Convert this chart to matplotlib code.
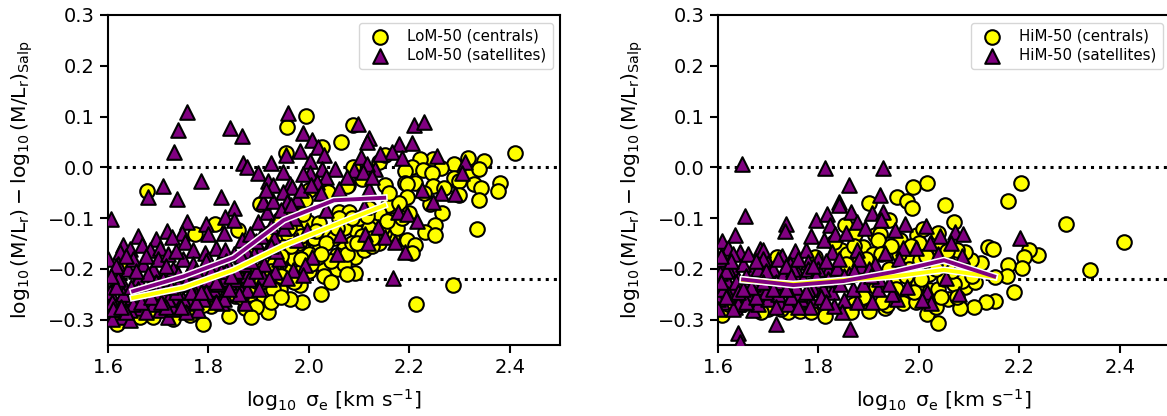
"""M/L offset vs velocity dispersion, LoM-50 and HiM-50, centrals and satellites."""
import matplotlib
matplotlib.use("Agg")
import matplotlib.pyplot as plt
import numpy as np

plt.rcParams["mathtext.default"] = "regular"

# (log sigma, offset)
LO_CEN = [
    (1.677,-0.047),(1.956,0.079),(1.994,0.102),(2.087,0.084),(2.064,0.049),(2.027,0.040),(1.954,0.028),(2.411,0.029),
    (2.316,0.019),(2.348,0.012),(2.288,0.006),(2.248,0.017),(2.221,0.016),(2.263,-0.001),(2.205,0.001),(2.227,-0.006),
    (2.191,-0.007),(2.245,-0.012),(2.324,-0.010),(2.338,-0.003),(2.294,-0.026),(2.288,-0.022),(2.152,-0.034),(2.077,-0.034),
    (2.105,-0.024),(2.087,0.001),(2.140,0.010),(2.152,0.025),(2.211,-0.031),(2.248,-0.037),(2.191,-0.031),(2.328,-0.032),
    (2.342,-0.040),(2.381,-0.030),(2.377,-0.047),(2.338,-0.064),(2.298,-0.027),(2.298,-0.055),(2.195,-0.032),(2.195,-0.058),
    (2.265,-0.090),(2.241,-0.072),(2.251,-0.114),(2.231,-0.127),(2.251,-0.134),(2.195,-0.144),(2.211,-0.154),(2.205,-0.169),
    (2.334,-0.122),(2.168,-0.104),(2.286,-0.232),(2.213,-0.270),(2.092,-0.208),(2.092,-0.177),(2.095,-0.127),(2.128,-0.103),
    (2.158,-0.075),(2.059,-0.088),(2.079,-0.088),(2.109,-0.163),(2.069,-0.158),(2.039,-0.190),(2.061,-0.196),(2.055,-0.200),
    (2.029,-0.193),(2.016,-0.154),(2.019,-0.177),(1.982,-0.232),(2.025,-0.250),(1.986,-0.265),(1.962,-0.259),(1.919,-0.285),
    (1.916,-0.236),(1.942,-0.239),(1.909,-0.200),(1.840,-0.293),(1.806,-0.274),(1.790,-0.308),(1.873,-0.278),(1.909,-0.252),
    (1.883,-0.249),(1.853,-0.254),(1.773,-0.132),(1.813,-0.111),(1.942,-0.140),(1.959,-0.134),(1.979,-0.114),(1.999,-0.108),
    (1.903,-0.072),(1.942,-0.101),(2.000,-0.045),(2.039,-0.049),(2.075,-0.036),(1.992,-0.065),(1.962,-0.081),(1.999,-0.131),
    (1.989,-0.091),(1.929,-0.239),(1.966,-0.203),(1.989,-0.196),(2.055,-0.173),(2.069,-0.190),(1.936,-0.206),(1.962,-0.177),
    (1.916,-0.177),(1.949,-0.157),(2.022,-0.157),(1.989,-0.163),(1.630,-0.190),(1.617,-0.308),(1.664,-0.295),(1.690,-0.295),
    (1.730,-0.298),(1.757,-0.285),(1.790,-0.272),(1.763,-0.291),(1.876,-0.216),(1.859,-0.124),(1.883,-0.157),(1.88,-0.20),
    (1.93,-0.19),(1.97,-0.18),(2.00,-0.17),(2.01,-0.14),(1.98,-0.15),(2.03,-0.13),(2.05,-0.14),(2.07,-0.12),(2.10,-0.10),
    (2.12,-0.12),(2.14,-0.09),(2.06,-0.10),(2.02,-0.11),(1.96,-0.12),(1.92,-0.13),(2.165,-0.135),(2.14,-0.15),(2.18,-0.07),
    (2.20,-0.09),(2.23,-0.05),(2.27,-0.04),(2.15,-0.13),(2.12,-0.08),(2.16,-0.05),(1.97,-0.225),(2.00,-0.205),(2.03,-0.215),
    (2.045,-0.185),(2.075,-0.170),(2.035,-0.150),(2.055,-0.120),(2.085,-0.150),(2.105,-0.135),(2.125,-0.155),(2.145,-0.120),
    (2.015,-0.125),(1.985,-0.135),(1.965,-0.155),(1.945,-0.175),(1.925,-0.205),(1.905,-0.225),(1.945,-0.215),(1.985,-0.180),
    (2.005,-0.190),(2.025,-0.170),(2.075,-0.210),(2.045,-0.225),(2.095,-0.150),(2.085,-0.100),(2.115,-0.095),(2.175,-0.120),
    (2.185,-0.100),(2.155,-0.105),(2.125,-0.140),(1.895,-0.275),(1.925,-0.265),(1.885,-0.295),(1.945,-0.255),(1.865,-0.255),
]
LO_SAT = [
    (1.758,0.109),(1.740,0.074),(1.732,0.030),(1.843,0.078),(1.866,0.062),(1.959,0.107),(1.989,0.068),(2.006,0.053),
    (2.018,0.040),(1.982,0.033),(1.954,0.024),(2.002,0.012),(2.031,0.024),(1.925,0.009),(1.868,0.009),(1.877,0.001),
    (1.899,-0.012),(1.949,-0.009),(1.919,-0.026),(1.929,-0.035),(1.962,-0.032),(1.966,-0.039),(1.786,-0.026),(1.710,-0.037),
    (1.680,-0.058),(1.737,-0.063),(1.825,-0.058),(2.097,0.085),(2.120,0.058),(2.116,0.050),(2.209,0.083),(2.230,0.089),
    (2.205,0.047),(2.180,0.045),(2.165,0.030),(2.142,0.026),(2.103,0.020),(2.185,0.018),(2.255,0.022),(2.311,0.010),
    (2.304,-0.012),(2.089,-0.005),(2.052,-0.004),(2.027,-0.004),(2.002,-0.012),(1.989,-0.014),(2.035,-0.019),(2.016,-0.029),
    (2.132,-0.004),(2.115,0.007),(2.108,-0.009),(2.120,-0.042),(2.059,-0.042),(2.225,-0.044),(2.263,-0.051),(2.291,-0.052),
    (1.949,-0.049),(1.850,-0.081),(1.833,-0.098),(1.850,-0.104),(1.757,-0.108),(1.796,-0.111),(1.605,-0.101),(1.660,-0.135),
    (1.695,-0.141),(1.717,-0.126),(1.747,-0.129),(1.630,-0.154),(1.644,-0.160),(1.624,-0.167),(1.667,-0.154),(1.727,-0.137),
    (1.753,-0.147),(1.684,-0.162),(1.703,-0.158),(1.770,-0.163),(1.793,-0.169),(1.816,-0.158),(1.833,-0.163),(1.800,-0.131),
    (1.830,-0.129),(1.866,-0.144),(1.883,-0.131),(1.899,-0.108),(1.916,-0.088),(1.909,-0.068),(1.929,-0.066),(1.956,-0.068),
    (1.976,-0.062),(2.112,-0.131),(2.109,-0.078),(2.248,-0.068),(2.178,-0.088),(2.195,-0.091),(2.215,-0.106),(2.138,-0.118),
    (2.152,-0.137),(2.172,-0.147),(2.191,-0.167),(2.118,-0.150),(2.062,-0.134),(2.055,-0.170),(2.006,-0.177),(1.992,-0.193),
    (1.969,-0.203),(1.989,-0.213),(1.956,-0.219),(1.933,-0.206),(1.909,-0.216),(2.168,-0.219),(2.035,-0.085),(1.996,-0.124),
    (1.976,-0.144),(1.916,-0.163),(1.903,-0.163),(1.876,-0.213),(1.859,-0.232),(1.840,-0.226),(1.800,-0.249),(1.763,-0.268),
    (1.730,-0.255),(1.826,-0.268),(1.873,-0.268),(1.703,-0.282),(1.664,-0.278),(1.644,-0.282),(1.627,-0.295),(1.607,-0.298),
    (1.644,-0.301),(1.720,-0.295),(1.780,-0.282),(1.830,-0.249),(1.876,-0.242),(1.604,-0.246),(1.607,-0.265),(1.627,-0.265),
    (1.647,-0.255),(1.60,-0.18),(1.61,-0.21),(1.62,-0.19),(1.63,-0.23),(1.64,-0.20),(1.65,-0.18),(1.66,-0.22),(1.67,-0.19),
    (1.68,-0.24),(1.69,-0.20),(1.70,-0.18),(1.71,-0.22),(1.72,-0.17),(1.73,-0.20),(1.74,-0.23),(1.75,-0.18),(1.76,-0.21),
    (1.77,-0.19),(1.78,-0.23),(1.79,-0.20),(1.80,-0.18),(1.81,-0.21),(1.82,-0.19),(1.83,-0.22),(1.84,-0.20),(1.85,-0.17),
    (1.61,-0.28),(1.63,-0.25),(1.65,-0.27),(1.67,-0.25),(1.69,-0.27),(1.71,-0.25),(1.73,-0.28),(1.75,-0.26),(1.77,-0.24),
    (1.79,-0.26),(1.81,-0.24),(1.83,-0.26),(1.85,-0.22),(1.87,-0.19),(1.89,-0.17),(1.91,-0.19),(1.62,-0.22),(1.66,-0.24),
    (1.70,-0.23),(1.74,-0.21),(1.78,-0.21),(1.82,-0.23),(1.86,-0.25),(1.90,-0.24),(1.68,-0.21),(1.72,-0.26),(1.76,-0.23),
    (1.80,-0.22),(1.84,-0.24),(1.88,-0.22),(1.92,-0.22),(1.94,-0.18),(1.93,-0.14),(1.95,-0.12),(1.97,-0.10),
    (1.615,-0.195),(1.635,-0.175),(1.655,-0.205),(1.675,-0.175),(1.695,-0.225),(1.715,-0.195),(1.735,-0.165),(1.755,-0.225),
    (1.775,-0.205),(1.795,-0.185),(1.815,-0.225),(1.835,-0.185),(1.855,-0.205),(1.875,-0.165),(1.615,-0.235),(1.635,-0.285),
    (1.655,-0.245),(1.675,-0.285),(1.695,-0.245),(1.715,-0.275),(1.735,-0.245),(1.755,-0.285),(1.775,-0.265),(1.795,-0.245),
    (1.815,-0.265),(1.835,-0.205),(1.895,-0.205),(1.935,-0.165),(1.955,-0.105),(1.925,-0.115),(1.895,-0.145),(1.605,-0.215),
    (1.625,-0.275),(1.645,-0.235),(1.665,-0.265),(1.685,-0.255),(1.705,-0.265),(1.725,-0.235),(1.745,-0.275),(1.765,-0.245),
    (1.785,-0.245),(1.805,-0.205),(1.825,-0.205),(1.845,-0.215),(1.865,-0.175),(1.885,-0.185),(1.905,-0.135),(1.925,-0.155),
    (1.945,-0.085),(1.985,-0.045),(2.005,-0.035),(2.025,-0.050),(2.075,-0.020),(2.125,-0.020),(1.965,-0.075),(1.915,-0.045),
]
HI_CEN = [
    (2.016,-0.030),(1.989,-0.039),(2.203,-0.030),(2.178,-0.067),(1.957,-0.058),(1.976,-0.067),(1.901,-0.070),(2.052,-0.075),
    (1.987,-0.080),(2.069,-0.108),(1.940,-0.103),(2.293,-0.112),(2.409,-0.148),(2.341,-0.202),(2.237,-0.172),(2.220,-0.162),
    (2.209,-0.177),(2.206,-0.198),(2.178,-0.193),(2.175,-0.215),(2.152,-0.217),(2.190,-0.246),(2.152,-0.264),(2.134,-0.266),
    (2.110,-0.276),(2.082,-0.278),(2.057,-0.259),(2.039,-0.307),(2.017,-0.288),(2.092,-0.236),(2.123,-0.188),(2.103,-0.183),
    (2.138,-0.157),(2.147,-0.160),(2.092,-0.167),(2.112,-0.226),(2.085,-0.223),(1.996,-0.134),(1.913,-0.134),(1.923,-0.131),
    (1.919,-0.144),(1.889,-0.157),(1.845,-0.162),(1.853,-0.114),(1.873,-0.131),(1.813,-0.293),(1.740,-0.285),(1.763,-0.283),
    (1.607,-0.291),(1.901,-0.283),(1.933,-0.278),(1.936,-0.272),(1.982,-0.255),(1.969,-0.268),(1.999,-0.229),(2.022,-0.242),
    (2.039,-0.239),(2.039,-0.129),(2.009,-0.121),(1.962,-0.144),(1.979,-0.183),(2.002,-0.183),(2.029,-0.165),(2.075,-0.163),
    (1.909,-0.170),(1.869,-0.183),(1.793,-0.177),(1.846,-0.200),(1.717,-0.177),(1.889,-0.255),(1.926,-0.265),(1.856,-0.170),
    (1.830,-0.147),(1.62,-0.27),(1.65,-0.27),(1.70,-0.28),(1.68,-0.25),(1.61,-0.22),(1.75,-0.25),(1.80,-0.22),(1.78,-0.27),
    (1.95,-0.22),(1.98,-0.20),(2.02,-0.21),(2.06,-0.19),(2.05,-0.22),(2.07,-0.23),(1.96,-0.17),(1.94,-0.20),(1.90,-0.21),
    (2.04,-0.16),(2.00,-0.15),(1.945,-0.155),(1.985,-0.155),(2.015,-0.175),(2.055,-0.165),(2.065,-0.205),(2.085,-0.195),
    (2.035,-0.200),(2.005,-0.220),(1.975,-0.215),(1.955,-0.240),(1.915,-0.235),(1.885,-0.205),(1.895,-0.180),(1.925,-0.170),
    (1.870,-0.155),(1.855,-0.190),(1.835,-0.230),(1.870,-0.270),(1.995,-0.265),(2.035,-0.275),(2.075,-0.255),(2.105,-0.215),
    (1.685,-0.285),(1.725,-0.280),(1.785,-0.285),(1.865,-0.285),(1.990,-0.245),(2.045,-0.255),
]
HI_SAT = [
    (1.648,0.007),(1.814,-0.001),(1.929,-0.001),(1.861,-0.035),(1.923,-0.054),(1.840,-0.068),(1.654,-0.095),(1.607,-0.145),
    (1.634,-0.134),(1.620,-0.158),(1.644,-0.167),(1.607,-0.190),(1.630,-0.202),(1.735,-0.111),(1.733,-0.126),(1.684,-0.160),
    (1.690,-0.163),(1.727,-0.175),(1.700,-0.188),(1.670,-0.202),(1.753,-0.165),(1.743,-0.190),(1.760,-0.209),(1.776,-0.162),
    (1.780,-0.186),(1.786,-0.136),(1.796,-0.104),(1.818,-0.091),(1.840,-0.074),(1.823,-0.114),(1.811,-0.144),(1.832,-0.132),
    (1.826,-0.167),(1.800,-0.180),(1.820,-0.203),(1.836,-0.198),(1.865,-0.088),(1.876,-0.108),(1.893,-0.119),(1.855,-0.129),
    (1.906,-0.090),(1.928,-0.088),(1.925,-0.104),(1.972,-0.111),(1.952,-0.124),(2.015,-0.116),(2.042,-0.136),(2.072,-0.127),
    (2.087,-0.132),(2.063,-0.149),(2.022,-0.150),(1.994,-0.158),(1.969,-0.158),(1.933,-0.169),(1.876,-0.162),(1.961,-0.180),
    (1.913,-0.190),(1.885,-0.195),(2.039,-0.170),(2.085,-0.175),(2.201,-0.139),(2.054,-0.219),(1.977,-0.236),(2.017,-0.246),
    (2.080,-0.250),(2.025,-0.268),(2.006,-0.262),(1.956,-0.259),(1.946,-0.249),(1.919,-0.239),(1.906,-0.265),(1.876,-0.265),
    (1.868,-0.239),(1.851,-0.262),(1.846,-0.285),(1.826,-0.246),(1.830,-0.274),(1.786,-0.262),(1.765,-0.259),(1.783,-0.275),
    (1.697,-0.255),(1.670,-0.282),(1.634,-0.275),(1.607,-0.265),(1.647,-0.255),(1.715,-0.309),(1.863,-0.318),(1.639,-0.326),
    (1.644,-0.344),(1.723,-0.268),(1.684,-0.236),(1.657,-0.229),(1.723,-0.229),(1.604,-0.236),(1.617,-0.223),(1.630,-0.239),
    (1.604,-0.209),(1.750,-0.242),(1.803,-0.223),(1.843,-0.229),(1.889,-0.229),(1.61,-0.18),(1.62,-0.20),(1.63,-0.17),
    (1.64,-0.22),(1.65,-0.19),(1.66,-0.17),(1.67,-0.23),(1.68,-0.20),(1.69,-0.18),(1.70,-0.22),(1.71,-0.20),(1.72,-0.18),
    (1.73,-0.21),(1.74,-0.24),(1.75,-0.20),(1.76,-0.18),(1.77,-0.22),(1.78,-0.20),(1.79,-0.24),(1.80,-0.20),(1.81,-0.24),
    (1.62,-0.25),(1.64,-0.27),(1.66,-0.25),(1.68,-0.27),(1.70,-0.26),(1.72,-0.25),(1.74,-0.27),(1.76,-0.25),(1.78,-0.24),
    (1.82,-0.22),(1.84,-0.18),(1.86,-0.21),(1.88,-0.18),(1.90,-0.20),(1.92,-0.22),(1.94,-0.23),(1.60,-0.26),(1.61,-0.24),
    (1.60,-0.28),(1.63,-0.28),(1.615,-0.205),(1.635,-0.225),(1.655,-0.215),(1.675,-0.185),(1.695,-0.245),(1.715,-0.225),
    (1.735,-0.195),(1.755,-0.235),(1.775,-0.245),(1.795,-0.215),(1.615,-0.255),(1.655,-0.265),(1.675,-0.255),(1.715,-0.275),
    (1.745,-0.255),(1.805,-0.255),(1.625,-0.185),(1.695,-0.205),(1.605,-0.175),(1.640,-0.245),(1.665,-0.235),(1.690,-0.225),
    (1.710,-0.240),(1.735,-0.240),(1.760,-0.275),(1.815,-0.265),(1.850,-0.215),(1.870,-0.205),(1.905,-0.215),(1.790,-0.195),
    (1.815,-0.185),(1.745,-0.215),(1.650,-0.240),(1.605,-0.225),
]

BIN_X = [1.65, 1.75, 1.85, 1.95, 2.05, 2.15]
LO_CEN_MED = [-0.257, -0.237, -0.202, -0.154, -0.114, -0.075]
LO_SAT_MED = [-0.244, -0.215, -0.178, -0.104, -0.065, -0.060]
HI_CEN_MED = [-0.222, -0.230, -0.222, -0.215, -0.202, -0.216]
HI_SAT_MED = [-0.221, -0.232, -0.224, -0.206, -0.183, -0.215]

SALP_LINE = 0.0
REF_LINE = -0.22
YELLOW = "#ffff00"
PURPLE = "#800080"


def panel(ax, name, cen, sat, cen_med, sat_med):
    ax.axhline(SALP_LINE, color="k", ls=":", lw=2.2, zorder=1)
    ax.axhline(REF_LINE, color="k", ls=":", lw=2.2, zorder=1)
    cen = np.array(cen)
    sat = np.array(sat)
    ax.scatter(cen[:, 0], cen[:, 1], s=110, c=YELLOW, marker="o", edgecolors="k",
               linewidths=1.5, zorder=2, label=f"{name} (centrals)")
    ax.scatter(sat[:, 0], sat[:, 1], s=110, c=PURPLE, marker="^", edgecolors="k",
               linewidths=1.5, zorder=3, label=f"{name} (satellites)")
    for med, col in ((cen_med, YELLOW), (sat_med, PURPLE)):
        ax.plot(BIN_X, med, color="w", lw=5, zorder=4, solid_joinstyle="miter")
        ax.plot(BIN_X, med, color=col, lw=2.8, zorder=5, solid_joinstyle="miter")

    ax.set_xlim(1.6, 2.5)
    ax.set_ylim(-0.35, 0.3)
    ax.set_xticks([1.6, 1.8, 2.0, 2.2, 2.4])
    ax.set_yticks([-0.3, -0.2, -0.1, 0.0, 0.1, 0.2, 0.3])
    ax.tick_params(labelsize=14, width=1.5, length=6)
    for sp in ax.spines.values():
        sp.set_linewidth(1.5)
    ax.set_xlabel(r"$\log_{10}\ \sigma_{e}\ [km\ s^{-1}]$", fontsize=14.7, labelpad=7)
    ax.set_ylabel(r"$\log_{10}(M/L_{r}) - \log_{10}(M/L_{r})_{Salp}$", fontsize=14.6, labelpad=9)
    ax.legend(loc="upper right", fontsize=10.8, borderaxespad=0.5, labelspacing=0.3)


W, H = 1167, 416
fig = plt.figure(figsize=(W / 100, H / 100), dpi=100)
ax1 = fig.add_axes([108 / W, 71 / H, 452 / W, 330 / H])
ax2 = fig.add_axes([718 / W, 71 / H, 452 / W, 330 / H])
panel(ax1, "LoM-50", LO_CEN, LO_SAT, LO_CEN_MED, LO_SAT_MED)
panel(ax2, "HiM-50", HI_CEN, HI_SAT, HI_CEN_MED, HI_SAT_MED)
fig.savefig("out.png", dpi=100)
